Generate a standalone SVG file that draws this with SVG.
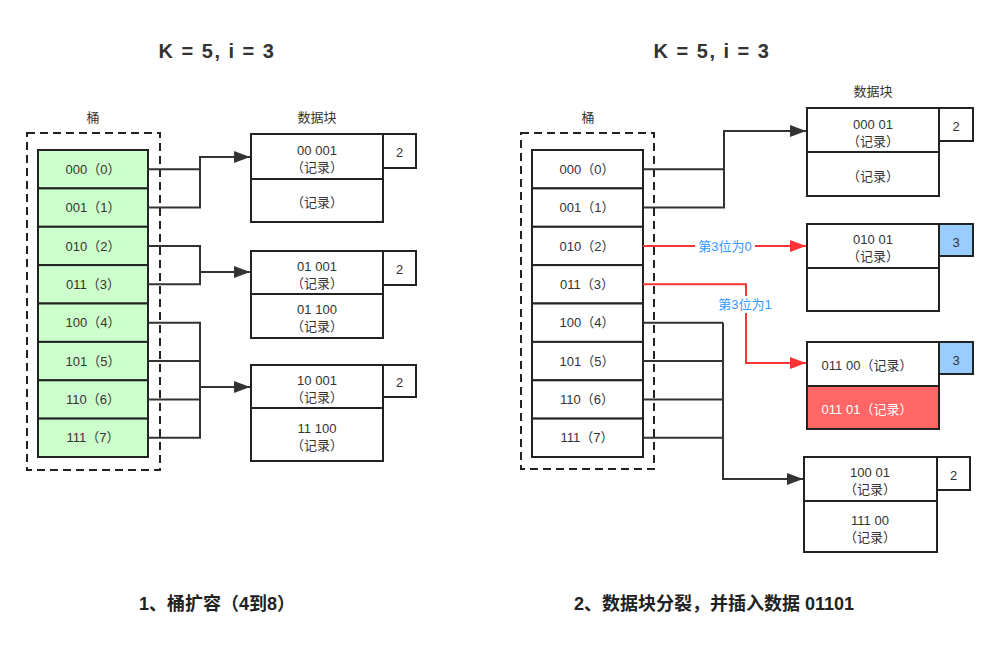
<svg xmlns="http://www.w3.org/2000/svg" width="1000" height="653" viewBox="0 0 1000 653">
<defs>
<style>
text{font-family:"Liberation Sans","Noto Sans CJK SC",sans-serif;fill:#333;font-size:13px;text-anchor:middle;dominant-baseline:central}
.title{font-family:"Liberation Sans","Noto Sans CJK SC",sans-serif;font-weight:bold;font-size:20px;letter-spacing:1.5px;fill:#333}
.cap{font-family:"Liberation Sans","Noto Sans CJK SC",sans-serif;font-weight:bold;font-size:18px;fill:#222}
.cell{stroke:#222;stroke-width:2}
.g{fill:#ccffcc}
.w{fill:#fff}
.b{fill:#99ccff}
.r{fill:#ff6666}
.dash{fill:none;stroke:#222;stroke-width:2;stroke-dasharray:8 5}
.ln{fill:none;stroke:#333;stroke-width:2}
.rl{fill:none;stroke:#ff3333;stroke-width:2}
.lbl{fill:#3399ff}
.wt{fill:#fff}
</style>
<marker id="ah" markerUnits="userSpaceOnUse" markerWidth="16" markerHeight="12" refX="16" refY="6" orient="auto"><path d="M0,0 L16,6 L0,12 z" fill="#333"/></marker>
<marker id="ahr" markerUnits="userSpaceOnUse" markerWidth="16" markerHeight="12" refX="16" refY="6" orient="auto"><path d="M0,0 L16,6 L0,12 z" fill="#ff3333"/></marker>
</defs>
<rect width="1000" height="653" fill="#fff"/>

<text class="title" x="217" y="51">K = 5, i = 3</text>
<text class="title" x="712" y="51">K = 5, i = 3</text>
<text class="cap" x="217" y="604">1、桶扩容（4到8）</text>
<text class="cap" x="714" y="604">2、数据块分裂，并插入数据 01101</text>

<!-- LEFT PANEL -->
<g id="left-buckets">
<text x="93" y="117">桶</text>
<rect class="dash" x="27" y="133" width="133" height="337"/>
<rect class="cell g" x="38" y="150" width="110" height="38.4"/><text x="93" y="169.2">000（0）</text>
<rect class="cell g" x="38" y="188.4" width="110" height="38.4"/><text x="93" y="207.6">001（1）</text>
<rect class="cell g" x="38" y="226.8" width="110" height="38.4"/><text x="93" y="246">010（2）</text>
<rect class="cell g" x="38" y="265.1" width="110" height="38.4"/><text x="93" y="284.3">011（3）</text>
<rect class="cell g" x="38" y="303.5" width="110" height="38.4"/><text x="93" y="322.7">100（4）</text>
<rect class="cell g" x="38" y="341.9" width="110" height="38.4"/><text x="93" y="361.1">101（5）</text>
<rect class="cell g" x="38" y="380.3" width="110" height="38.4"/><text x="93" y="399.4">110（6）</text>
<rect class="cell g" x="38" y="418.6" width="110" height="38.4"/><text x="93" y="437.8">111（7）</text>
</g>
<text x="317" y="117">数据块</text>
<g id="left-block1">
<rect class="cell w" x="251" y="134" width="132" height="45"/>
<text x="317" y="150">00 001</text><text x="317" y="167">（记录）</text>
<rect class="cell w" x="251" y="179" width="132" height="43"/>
<text x="317" y="202">（记录）</text>
<rect class="cell w" x="383" y="134" width="33" height="34"/><text x="399.5" y="152">2</text>
</g>
<g id="left-block2">
<rect class="cell w" x="251" y="251" width="132" height="43"/>
<text x="317" y="266">01 001</text><text x="317" y="283">（记录）</text>
<rect class="cell w" x="251" y="294" width="132" height="44"/>
<text x="317" y="309">01 100</text><text x="317" y="326">（记录）</text>
<rect class="cell w" x="383" y="251" width="33" height="34"/><text x="399.5" y="269">2</text>
</g>
<g id="left-block3">
<rect class="cell w" x="251" y="365" width="132" height="43"/>
<text x="317" y="380">10 001</text><text x="317" y="397">（记录）</text>
<rect class="cell w" x="251" y="408" width="132" height="53"/>
<text x="317" y="428">11 100</text><text x="317" y="445">（记录）</text>
<rect class="cell w" x="383" y="365" width="33" height="32"/><text x="399.5" y="382">2</text>
</g>

<!-- RIGHT PANEL -->
<g id="right-buckets">
<text x="588" y="117">桶</text>
<rect class="dash" x="521" y="133" width="133" height="336"/>
<rect class="cell w" x="532" y="150" width="111" height="38.4"/><text x="587" y="169.2">000（0）</text>
<rect class="cell w" x="532" y="188.4" width="111" height="38.4"/><text x="587" y="207.6">001（1）</text>
<rect class="cell w" x="532" y="226.8" width="111" height="38.4"/><text x="587" y="246">010（2）</text>
<rect class="cell w" x="532" y="265.1" width="111" height="38.4"/><text x="587" y="284.3">011（3）</text>
<rect class="cell w" x="532" y="303.5" width="111" height="38.4"/><text x="587" y="322.7">100（4）</text>
<rect class="cell w" x="532" y="341.9" width="111" height="38.4"/><text x="587" y="361.1">101（5）</text>
<rect class="cell w" x="532" y="380.3" width="111" height="38.4"/><text x="587" y="399.4">110（6）</text>
<rect class="cell w" x="532" y="418.6" width="111" height="38.4"/><text x="587" y="437.8">111（7）</text>
</g>
<text x="873" y="91">数据块</text>
<g id="right-blockA">
<rect class="cell w" x="807" y="108" width="132" height="44"/>
<text x="873" y="124">000 01</text><text x="873" y="141">（记录）</text>
<rect class="cell w" x="807" y="152" width="132" height="44"/>
<text x="873" y="176">（记录）</text>
<rect class="cell w" x="939" y="108" width="34" height="33"/><text x="956" y="126">2</text>
</g>
<g id="right-blockB">
<rect class="cell w" x="807" y="224" width="132" height="44"/>
<text x="873" y="239">010 01</text><text x="873" y="256">（记录）</text>
<rect class="cell w" x="807" y="268" width="132" height="43"/>
<rect class="cell b" x="939" y="224" width="34" height="32"/><text x="956" y="242">3</text>
</g>
<g id="right-blockC">
<rect class="cell w" x="807" y="342" width="132" height="44"/>
<text x="867" y="365">011 00（记录）</text>
<rect class="cell r" x="807" y="386" width="132" height="43"/>
<text class="wt" x="867" y="409">011 01（记录）</text>
<rect class="cell b" x="939" y="342" width="34" height="32"/><text x="956" y="360">3</text>
</g>
<g id="right-blockD">
<rect class="cell w" x="804" y="457" width="133" height="44"/>
<text x="870" y="472">100 01</text><text x="870" y="489">（记录）</text>
<rect class="cell w" x="804" y="501" width="133" height="51"/>
<text x="870" y="520">111 00</text><text x="870" y="537">（记录）</text>
<rect class="cell w" x="937" y="457" width="33" height="33"/><text x="953.5" y="475">2</text>
</g>

<g id="connectors">
<path class="ln" d="M148,169.2 H200"/>
<path class="ln" d="M148,207.6 H200 V157 H250" marker-end="url(#ah)"/>
<path class="ln" d="M148,246 H200 V284.3 H148"/>
<path class="ln" d="M200,272 H250" marker-end="url(#ah)"/>
<path class="ln" d="M148,322.7 H200 V437.8 H148"/>
<path class="ln" d="M148,361.1 H200 M148,399.4 H200"/>
<path class="ln" d="M200,387 H250" marker-end="url(#ah)"/>

<path class="ln" d="M643,169.2 H724"/>
<path class="ln" d="M643,207.6 H724 V131 H806" marker-end="url(#ah)"/>
<path class="ln" d="M643,322.7 H723 M643,361.1 H723 M643,399.4 H723 M643,437.8 H723"/>
<path class="ln" d="M723,322.7 V479 H803" marker-end="url(#ah)"/>
<path class="rl" d="M643,246 H806" marker-end="url(#ahr)"/>
<path class="rl" d="M643,284.3 H746 V363 H806" marker-end="url(#ahr)"/>
<rect x="695" y="237" width="60" height="17" fill="#fff"/>
<text class="lbl" x="725" y="246">第3位为0</text>
<rect x="717" y="296" width="57" height="17" fill="#fff"/>
<text class="lbl" x="745" y="304">第3位为1</text>
</g>
</svg>
